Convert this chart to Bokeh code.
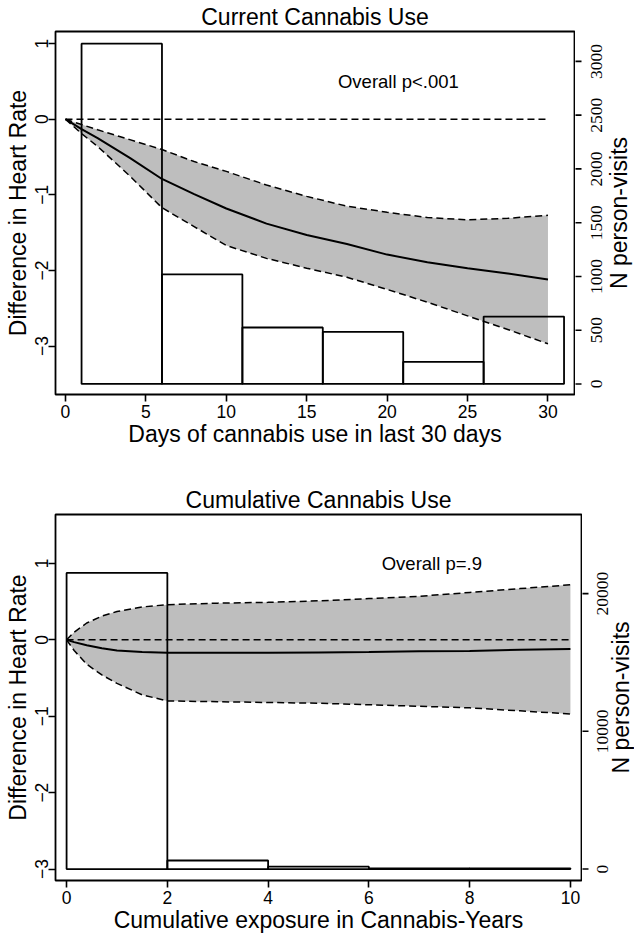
import math
from bokeh.plotting import figure
from bokeh.models import Range1d, FixedTicker, Label, LabelSet, ColumnDataSource
from bokeh.layouts import column, row
from bokeh.embed import file_html
from bokeh.resources import INLINE

FONT = "Liberation Sans"

# ---- Top chart: Current Cannabis Use ----
cur_x = [0, 1, 2, 4, 6, 8, 10, 12.5, 15, 17.5, 20, 22.5, 25, 27.5, 30]
cur_fit = [0, -0.13, -0.25, -0.51, -0.79, -0.99, -1.18, -1.38, -1.53, -1.65, -1.79, -1.89, -1.97, -2.04, -2.12]
cur_upper = [0, -0.07, -0.14, -0.27, -0.40, -0.56, -0.69, -0.87, -1.02, -1.15, -1.23, -1.30, -1.33, -1.31, -1.27]
cur_lower = [0, -0.19, -0.36, -0.75, -1.17, -1.42, -1.67, -1.84, -1.97, -2.09, -2.25, -2.42, -2.60, -2.78, -2.97]
cur_bin_left = [1, 6, 11, 16, 21, 26]
cur_bin_right = [6, 11, 16, 21, 26, 31]
cur_counts = [3165, 1019, 525, 484, 206, 627]
cur_xticks = [0, 5, 10, 15, 20, 25, 30]
cur_yticks = [-3, -2, -1, 0, 1]
cur_nticks = [0, 500, 1000, 1500, 2000, 2500, 3000]

# ---- Bottom chart: Cumulative Cannabis Use ----
cum_x = [0, 0.15, 0.4, 0.7, 1, 1.5, 2, 3, 4, 5, 6, 7, 8, 9, 10]
cum_fit = [0, -0.03, -0.07, -0.11, -0.14, -0.16, -0.17, -0.17, -0.17, -0.165, -0.16, -0.15, -0.145, -0.13, -0.12]
cum_upper = [0, 0.10, 0.22, 0.31, 0.37, 0.43, 0.46, 0.48, 0.49, 0.51, 0.54, 0.57, 0.62, 0.67, 0.72]
cum_lower = [0, -0.14, -0.32, -0.46, -0.57, -0.72, -0.80, -0.81, -0.82, -0.83, -0.85, -0.87, -0.89, -0.93, -0.97]
cum_bin_left = [0, 2, 4, 6, 8]
cum_bin_right = [2, 4, 6, 8, 10]
cum_counts = [21500, 620, 170, 40, 50]
cum_xticks = [0, 2, 4, 6, 8, 10]
cum_yticks = [-3, -2, -1, 0, 1]
cum_nticks = [0, 10000, 20000]

REF_LEVEL = 0
DASH = "7 4"
TICK_FS = "17.5px"
TITLE_FS = "23px"
BORDER_LEFT = 55
BORDER_BOTTOM = 56
TICK_LEN = 7


def style_axis(ax, label_standoff, title_standoff):
    ax.axis_line_color = None
    ax.major_tick_line_color = "black"
    ax.major_tick_line_width = 1.6
    ax.major_tick_out = TICK_LEN
    ax.major_tick_in = 0
    ax.minor_tick_line_color = None
    ax.major_label_text_font = FONT
    ax.major_label_text_font_size = TICK_FS
    ax.major_label_text_color = "black"
    ax.major_label_standoff = label_standoff
    ax.axis_label_text_font = FONT
    ax.axis_label_text_font_size = TITLE_FS
    ax.axis_label_text_font_style = "normal"
    ax.axis_label_text_color = "black"
    ax.axis_label_standoff = title_standoff


def make_chart(title, xlabel, x, fit, upper, lower, bl, br, counts,
               xticks, yticks, nticks, xr, yr, nr, ptext, px, py,
               frame_right, side_w, height, border_top, lab_off, title_off):
    yrange_n = Range1d(*nr)
    p = figure(width=frame_right + 1, height=height, output_backend="svg", toolbar_location=None,
               x_range=Range1d(*xr), y_range=Range1d(*yr),
               min_border_left=BORDER_LEFT, min_border_right=1,
               min_border_top=border_top, min_border_bottom=BORDER_BOTTOM)
    p.extra_y_ranges = {"n": yrange_n}
    p.xgrid.visible = False
    p.ygrid.visible = False
    p.outline_line_color = "black"
    p.outline_line_width = 1.8
    p.background_fill_color = "white"
    p.border_fill_color = "white"

    p.title.text = title
    p.title.align = "center"
    p.title.text_font = FONT
    p.title.text_font_size = TITLE_FS
    p.title.text_font_style = "normal"
    p.title.text_color = "black"
    p.title.standoff = 3

    # confidence band
    p.varea(x=x, y1=lower, y2=upper, fill_color="#BEBEBE", fill_alpha=1.0)
    # histogram of person-visits (right axis scale)
    p.quad(left=bl, right=br, bottom=0, top=counts, y_range_name="n",
           fill_color=None, line_color="black", line_width=1.8)
    # reference line at zero
    p.line(x=[x[0], x[-1]], y=[REF_LEVEL, REF_LEVEL], line_color="black",
           line_width=1.4, line_dash=DASH)
    # bounds
    p.line(x=x, y=upper, line_color="black", line_width=1.5, line_dash=DASH)
    p.line(x=x, y=lower, line_color="black", line_width=1.5, line_dash=DASH)
    # fit
    p.line(x=x, y=fit, line_color="black", line_width=2)

    p.add_layout(Label(x=px, y=py, text=ptext, text_align="center", text_baseline="middle",
                       text_font=FONT, text_font_size="18.5px", text_color="black"))

    xa = p.xaxis[0]
    xa.ticker = FixedTicker(ticks=xticks)
    xa.axis_label = xlabel
    style_axis(xa, 3, 0)

    ya = p.yaxis[0]
    ya.ticker = FixedTicker(ticks=yticks)
    ya.axis_label = "Difference in Heart Rate"
    style_axis(ya, 0, 2)
    ya.major_label_orientation = "vertical"

    # right-hand scale (N person-visits): a narrow companion panel whose x units are
    # pixels measured from the plot box edge, sharing the count range
    s = figure(width=side_w, height=height, output_backend="svg", toolbar_location=None,
               x_range=Range1d(1, 1 + side_w), y_range=yrange_n,
               x_axis_location=None, y_axis_location=None,
               min_border_left=0, min_border_right=0,
               min_border_top=border_top, min_border_bottom=BORDER_BOTTOM)
    s.outline_line_color = None
    s.xgrid.visible = False
    s.ygrid.visible = False
    s.background_fill_color = "white"
    s.border_fill_color = "white"
    n = len(nticks)
    s.segment(x0=[0] * n, y0=nticks, x1=[TICK_LEN] * n, y1=nticks,
              line_color="black", line_width=1.6)
    src = ColumnDataSource(dict(x=[lab_off] * n, y=nticks, t=[str(t) for t in nticks]))
    s.add_layout(LabelSet(x="x", y="y", text="t", source=src,
                          angle=math.pi / 2, text_align="center", text_baseline="middle",
                          text_font=FONT, text_font_size=TICK_FS, text_color="black"))
    s.add_layout(Label(x=title_off, y=(nr[0] + nr[1]) / 2, text="N person-visits",
                       angle=math.pi / 2, text_align="center", text_baseline="middle",
                       text_font=FONT, text_font_size=TITLE_FS, text_color="black"))
    return row(p, s, spacing=0)


r1 = make_chart("Current Cannabis Use", "Days of cannabis use in last 30 days",
                cur_x, cur_fit, cur_upper, cur_lower, cur_bin_left, cur_bin_right, cur_counts,
                cur_xticks, cur_yticks, cur_nticks,
                (-0.62, 31.65), (-3.64, 1.16), (-98, 3278),
                "Overall p<.001", 20.7, 0.5,
                574, 59, 450, 29, 22, 44)

r2 = make_chart("Cumulative Cannabis Use", "Cumulative exposure in Cannabis-Years",
                cum_x, cum_fit, cum_upper, cum_lower, cum_bin_left, cum_bin_right, cum_counts,
                cum_xticks, cum_yticks, cum_nticks,
                (-0.22, 10.22), (-3.15, 1.64), (-832, 25743),
                "Overall p=.9", 7.25, 1.0,
                581, 52, 486, 64, 21, 39)

layout = column(r1, r2, spacing=0)
open("out.html", "w").write(file_html(layout, INLINE))
